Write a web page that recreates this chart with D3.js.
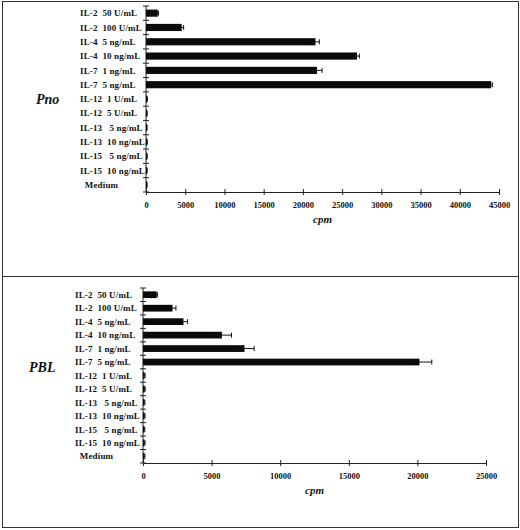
<!DOCTYPE html>
<html>
<head>
<meta charset="utf-8">
<script src="https://cdn.jsdelivr.net/npm/d3@7"></script>
<style>
  body { margin: 0; background: #fff; }
  svg { display: block; }
  text { font-family: "Liberation Serif", "Times New Roman", serif; fill: #111; }
  .cat text { font-size: 9px; font-weight: bold; letter-spacing: 0.15px; white-space: pre; }
  .xaxis text { font-size: 8.5px; font-weight: bold; }
  .domain, .tick line { stroke: #222; }
</style>
</head>
<body>
<div id="chart"></div>
<script>
// Categories (same for both panels)
const categories = [
  "IL-2  50 U/mL",
  "IL-2  100 U/mL",
  "IL-4  5 ng/mL",
  "IL-4  10 ng/mL",
  "IL-7  1 ng/mL",
  "IL-7  5 ng/mL",
  "IL-12  1 U/mL",
  "IL-12  5 U/mL",
  "IL-13   5 ng/mL",
  "IL-13  10 ng/mL",
  "IL-15   5 ng/mL",
  "IL-15  10 ng/mL",
  "  Medium",
];

// Pno values (cpm) and errors
const pnoValues = [1500, 4550, 21600, 26900, 21800, 44000, 150, 120, 100, 130, 120, 110, 100];
const pnoErrors = [100, 250, 500, 300, 650, 150, 30, 30, 30, 30, 30, 30, 30];
const pnoTicks = [0, 5000, 10000, 15000, 20000, 25000, 30000, 35000, 40000, 45000];

// PBL values (cpm) and errors
const pblValues = [1000, 2150, 2950, 5750, 7400, 20150, 120, 130, 110, 120, 100, 120, 110];
const pblErrors = [50, 250, 300, 700, 700, 900, 30, 30, 30, 30, 30, 30, 30];
const pblTicks = [0, 5000, 10000, 15000, 20000, 25000];

const W = 520, H = 530;

const svg = d3
  .select("#chart")
  .append("svg")
  .attr("width", W)
  .attr("height", H);

// Panel frames
svg.append("rect")
  .attr("x", 2.5).attr("y", 1.5)
  .attr("width", 516).attr("height", 275)
  .attr("fill", "none").attr("stroke", "#333");
svg.append("rect")
  .attr("x", 2.5).attr("y", 276.5)
  .attr("width", 516).attr("height", 251)
  .attr("fill", "none").attr("stroke", "#333");

function drawPanel(cfg) {
  const x = d3.scaleLinear().domain([0, d3.max(cfg.ticks)]).range([cfg.x0, cfg.x1]);
  const y = d3.scaleBand().domain(categories).range([cfg.y0, cfg.y1]).paddingInner(0.5).paddingOuter(0.25);
  const g = svg.append("g");

  // x axis
  const xAxis = d3.axisBottom(x).tickValues(cfg.ticks).tickFormat(d3.format("d")).tickSizeOuter(0).tickSize(3).tickPadding(7);
  const xg = g.append("g")
    .attr("class", "xaxis")
    .attr("transform", "translate(0," + cfg.y1 + ")")
    .call(xAxis);
  xg.selectAll(".tick line").attr("y1", -3).attr("y2", 3);

  // y axis: line and ticks at band boundaries
  const bounds = categories.map((c, i) => cfg.y0 + i * (cfg.y1 - cfg.y0) / categories.length);
  bounds.push(cfg.y1);
  g.append("line")
    .attr("x1", cfg.x0).attr("x2", cfg.x0)
    .attr("y1", cfg.y0).attr("y2", cfg.y1)
    .attr("stroke", "#222");
  g.selectAll(".ytick")
    .data(bounds)
    .enter()
    .append("line")
    .attr("class", "ytick")
    .attr("x1", cfg.x0 - 3).attr("x2", cfg.x0 + 3)
    .attr("y1", (d) => d).attr("y2", (d) => d)
    .attr("stroke", "#222");

  // category labels (left aligned)
  const yAxis = d3.axisLeft(y).tickSize(0).tickPadding(0);
  const yg = g.append("g")
    .attr("class", "cat")
    .attr("transform", "translate(" + cfg.x0 + ",0)")
    .call(yAxis);
  yg.select(".domain").remove();
  yg.selectAll("text")
    .attr("text-anchor", "start")
    .attr("x", cfg.labelX - cfg.x0)
    .attr("dy", "0.35em");

  // bars
  g.selectAll(".bar")
    .data(cfg.values)
    .enter()
    .append("rect")
    .attr("class", "bar")
    .attr("x", x(0))
    .attr("y", (d, i) => y(categories[i]))
    .attr("width", (d) => Math.max(1.2, x(d) - x(0)))
    .attr("height", y.bandwidth())
    .attr("fill", "#0a0a0a");

  // error bars
  const eb = g.selectAll(".err")
    .data(cfg.values)
    .enter()
    .append("g")
    .attr("class", "err")
    .attr("transform", (d, i) => "translate(0," + (y(categories[i]) + y.bandwidth() / 2) + ")");
  eb.append("line")
    .attr("x1", (d, i) => x(d - cfg.errors[i]))
    .attr("x2", (d, i) => x(d + cfg.errors[i]))
    .attr("stroke", "#111");
  eb.append("line")
    .attr("x1", (d, i) => x(d + cfg.errors[i]))
    .attr("x2", (d, i) => x(d + cfg.errors[i]))
    .attr("y1", -2.5).attr("y2", 2.5)
    .attr("stroke", "#111");

  // axis label
  g.append("text")
    .attr("x", (cfg.x0 + cfg.x1) / 2)
    .attr("y", cfg.y1 + 31)
    .attr("text-anchor", "middle")
    .style("font-size", "11px")
    .style("font-style", "italic")
    .style("font-weight", "bold")
    .text("cpm");

  // panel title
  g.append("text")
    .attr("x", cfg.titleX)
    .attr("y", cfg.titleY)
    .style("font-size", "14px")
    .style("font-style", "italic")
    .style("font-weight", "bold")
    .text(cfg.title);
}

drawPanel({
  title: "Pno", titleX: 36, titleY: 104,
  values: pnoValues, errors: pnoErrors, ticks: pnoTicks,
  x0: 146, x1: 499, y0: 6, y1: 192, labelX: 80,
});

drawPanel({
  title: "PBL", titleX: 29, titleY: 372,
  values: pblValues, errors: pblErrors, ticks: pblTicks,
  x0: 143, x1: 486, y0: 288, y1: 463, labelX: 75,
});
</script>
</body>
</html>
